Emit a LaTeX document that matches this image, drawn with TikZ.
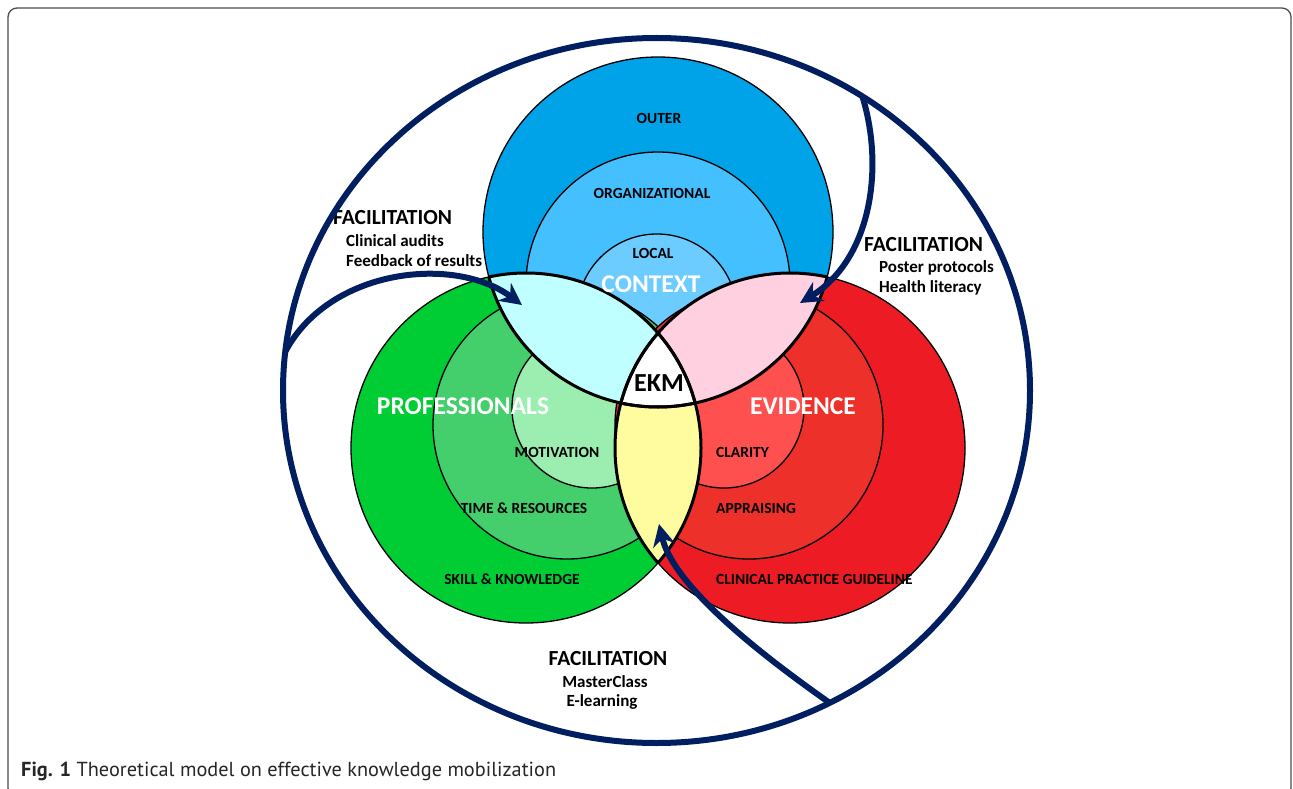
\documentclass[tikz,border=0pt]{standalone}
\usepackage{fontspec}
\setmainfont{Carlito}
\newfontfamily\capfont{PT Sans}
\usepackage{xcolor}
\usepackage{tikz}
\usetikzlibrary{arrows.meta,shapes.geometric}

\definecolor{ctxouter}{RGB}{0,162,232}
\definecolor{ctxorg}{RGB}{68,192,255}
\definecolor{ctxlocal}{RGB}{108,204,255}
\definecolor{proouter}{RGB}{0,204,51}
\definecolor{promid}{RGB}{68,206,108}
\definecolor{proinner}{RGB}{155,238,176}
\definecolor{evouter}{RGB}{237,28,36}
\definecolor{evmid}{RGB}{238,48,42}
\definecolor{evinner}{RGB}{255,80,80}
\definecolor{lenscyan}{RGB}{192,255,255}
\definecolor{lenspink}{RGB}{255,208,224}
\definecolor{lensyellow}{RGB}{255,252,160}
\definecolor{navy}{RGB}{0,30,96}
\newcommand{\vennr}{175pt}

\begin{document}
\begin{tikzpicture}[x=1pt, y=-1pt,
  thinline/.style={draw=black, line width=1.3pt},
  lens/.style={draw=black, line width=3pt},
  lbl/.style={font=\bfseries\fontsize{15.5}{18}\selectfont, inner sep=0pt},
  big/.style={font=\bfseries\fontsize{25.5}{30}\selectfont, text=white, inner sep=0pt},
  faci/.style={font=\bfseries\fontsize{21.5}{24}\selectfont, inner sep=0pt},
  item/.style={font=\bfseries\fontsize{17}{20}\selectfont, inner sep=0pt},
  flow/.style={draw=navy, line width=6pt, -{Stealth[length=22pt,width=22pt]}}
]
\useasboundingbox (0,0) rectangle (1293,789);

% Frame and caption
\draw[black!70, line width=1.3pt, rounded corners=9pt] (8,8) rectangle (1291,797);
\node[anchor=west, font=\capfont\fontsize{20.3}{24}\selectfont, text=black!85, inner sep=0pt] (caption) at (21,771)
  {\textbf{Fig. 1} Theoretical model on effective knowledge mobilization};

% Circle centres
\coordinate (ctx) at (658,232);
\coordinate (pro) at (526,448);
\coordinate (evi) at (790,448);

% Context
\filldraw[thinline, fill=ctxouter] (ctx) circle[radius=\vennr];
\filldraw[thinline, fill=ctxorg] (658,284) circle[radius=132pt];
\filldraw[thinline, fill=ctxlocal] (657,314) circle[radius=80pt];

% Professionals
\filldraw[thinline, fill=proouter] (pro) circle[radius=\vennr];
\filldraw[thinline, fill=promid] (567,425) circle[radius=134pt];
\filldraw[thinline, fill=proinner] (592,408) circle[radius=80pt];

% Evidence
\filldraw[thinline, fill=evouter] (evi) circle[radius=\vennr];
\filldraw[thinline, fill=evmid] (749,425) circle[radius=134pt];
\filldraw[thinline, fill=evinner] (724,408) circle[radius=80pt];

% Overlaps
\begin{scope}
  \clip (ctx) circle[radius=\vennr];
  \fill[lenscyan] (pro) circle[radius=\vennr];
  \fill[lenspink] (evi) circle[radius=\vennr];
\end{scope}
\begin{scope}
  \clip (pro) circle[radius=\vennr];
  \fill[lensyellow] (evi) circle[radius=\vennr];
  \clip (evi) circle[radius=\vennr];
  \fill[white] (ctx) circle[radius=\vennr];
\end{scope}

% Overlap borders
\begin{scope}
  \clip (ctx) circle[radius=\vennr];
  \draw[lens] (pro) circle[radius=\vennr];
  \draw[lens] (evi) circle[radius=\vennr];
\end{scope}
\begin{scope}
  \clip (pro) circle[radius=\vennr];
  \draw[lens] (ctx) circle[radius=\vennr];
  \draw[lens] (evi) circle[radius=\vennr];
\end{scope}
\begin{scope}
  \clip (evi) circle[radius=\vennr];
  \draw[lens] (ctx) circle[radius=\vennr];
  \draw[lens] (pro) circle[radius=\vennr];
\end{scope}

% Labels
\node[lbl] (outer) at (659,118) {OUTER};
\node[lbl] (organizational) at (652,193) {ORGANIZATIONAL};
\node[lbl] (local) at (653,253) {LOCAL};
\node[big] (context) at (651,284) {CONTEXT};
\node[big, text=black, font=\bfseries\fontsize{26}{30}\selectfont] (ekm) at (659,383) {EKM};
\node[big] (professionals) at (463,406) {PROFESSIONALS};
\node[big] (evidence) at (803,406) {EVIDENCE};
\node[lbl] (motivation) at (557,452) {MOTIVATION};
\node[lbl] (timeres) at (524,508) {TIME \& RESOURCES};
\node[lbl] (skill) at (512,579) {SKILL \& KNOWLEDGE};
\node[lbl, anchor=west] (clarity) at (716,452) {CLARITY};
\node[lbl, anchor=west] (appraising) at (716,508) {APPRAISING};
\node[lbl, anchor=west] (guideline) at (716,579) {CLINICAL PRACTICE GUIDELINE};

% Facilitation texts
\node[faci, anchor=west] (faciL) at (333,218) {FACILITATION};
\node[item, anchor=west] (audits) at (346,241) {Clinical audits};
\node[item, anchor=west] (feedback) at (346,261) {Feedback of results};
\node[faci, anchor=west] (faciR) at (864,245) {FACILITATION};
\node[item, anchor=west] (poster) at (879,268) {Poster protocols};
\node[item, anchor=west] (literacy) at (879,288) {Health literacy};
\node[faci] (faciB) at (608,659) {FACILITATION};
\node[item] (masterclass) at (605,682) {MasterClass};
\node[item] (elearning) at (602,702) {E-learning};

% Outer ring and flow arrows
\node[ellipse, draw=navy, line width=6pt, minimum width=747pt, minimum height=705pt,
  inner sep=0pt, outer sep=0pt] (outerring) at (656.5,390.5) {};
\coordinate (tipL) at (522,305);
\coordinate (tipR) at (800,303);
\coordinate (tipB) at (659,524);
\draw[flow] (outerring.174) .. controls (330,268) and (455,255) .. (tipL);
\draw[flow] (outerring.55) .. controls (885,170) and (870,260) .. (tipR);
\draw[flow] (outerring.-61) .. controls (740,640) and (672,580) .. (tipB);

\end{tikzpicture}
\end{document}
